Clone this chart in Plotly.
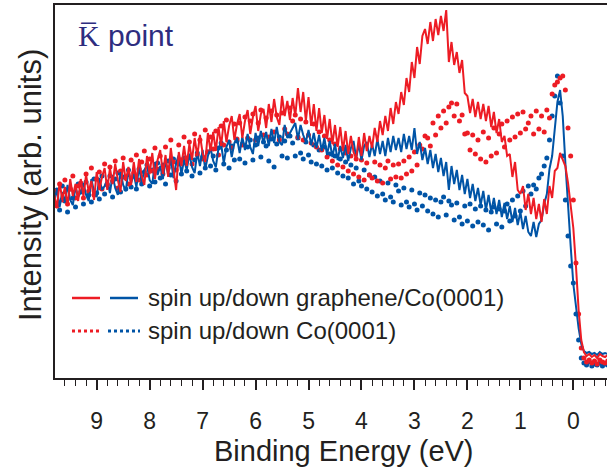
import numpy as np
import plotly.graph_objects as go

# Binding energy grid (eV), 0.05 eV steps from 9.80 down to -0.65
energy = np.round(9.80 - 0.05 * np.arange(210), 2)

# Intensities (arb. units)
red_line = [
    183, 170, 196, 178, 191, 172, 199, 182, 194, 177,
    199, 182, 203, 186, 197, 178, 206, 188, 201, 210,
    188, 210, 194, 214, 198, 186, 216, 197, 211, 193,
    216, 196, 219, 202, 193, 222, 204, 225, 199, 218,
    228, 204, 223, 201, 230, 210, 188, 226, 212, 232,
    212, 234, 218, 240, 222, 243, 225, 216, 245, 227,
    246, 227, 251, 232, 257, 236, 252, 262, 238, 254,
    264, 240, 257, 268, 244, 261, 272, 247, 264, 269,
    250, 274, 256, 279, 261, 253, 282, 262, 277, 258,
    280, 262, 290, 266, 286, 257, 281, 252, 274, 247,
    270, 245, 263, 239, 259, 234, 253, 231, 251, 227,
    247, 224, 242, 226, 219, 241, 222, 245, 227, 242,
    230, 250, 236, 257, 243, 262, 247, 270, 254, 276,
    264, 286, 273, 300, 286, 316, 300, 331, 314, 342,
    349, 334, 356, 337, 359, 343, 362, 347, 368, 316,
    336, 313, 326, 305, 318, 285, 282, 265, 279, 261,
    276, 259, 274, 257, 272, 251, 266, 245, 259, 236,
    242, 222, 224, 201, 216, 188, 184, 192, 168, 184,
    164, 180, 159, 174, 156, 179, 164, 192, 180, 207,
    210, 225, 218, 212, 195, 172, 150, 112, 68, 38,
    26, 22, 24, 21, 23, 20, 24, 22, 21, 23,
]

blue_line = [
    176, 189, 171, 186, 176, 193, 178, 173, 191, 181,
    186, 195, 183, 177, 199, 186, 181, 200, 188, 192,
    198, 185, 203, 190, 183, 206, 193, 187, 208, 195,
    204, 191, 211, 196, 208, 213, 198, 194, 216, 203,
    212, 199, 218, 203, 220, 200, 215, 223, 204, 218,
    208, 224, 211, 205, 226, 212, 228, 209, 222, 230,
    217, 211, 230, 234, 215, 231, 238, 221, 235, 240,
    225, 241, 228, 244, 231, 224, 245, 232, 247, 235,
    246, 232, 249, 235, 251, 236, 233, 253, 240, 245,
    250, 255, 239, 253, 243, 236, 248, 233, 245, 230,
    243, 227, 240, 223, 237, 221, 234, 218, 232, 220,
    233, 217, 230, 237, 220, 234, 218, 232, 236, 221,
    234, 222, 239, 224, 237, 222, 240, 226, 242, 228,
    240, 226, 244, 229, 242, 228, 250, 224, 236, 218,
    230, 214, 228, 210, 224, 206, 220, 202, 216, 188,
    212, 194, 208, 188, 203, 184, 199, 180, 194, 177,
    190, 173, 187, 168, 183, 166, 180, 164, 178, 161,
    175, 159, 172, 156, 170, 153, 166, 149, 162, 146,
    142, 156, 141, 154, 158, 174, 184, 209, 222, 250,
    276, 288, 262, 215, 168, 132, 94, 70, 50, 34,
    27, 25, 26, 24, 25, 23, 26, 24, 25, 24,
]

red_dots = [
    187, 172, 194, 178, 198, 174, 189, 202, 180, 192,
    195, 180, 204, 187, 210, 183, 199, 206, 189, 214,
    193, 211, 197, 217, 190, 207, 220, 200, 194, 218,
    205, 223, 198, 216, 227, 203, 219, 207, 230, 209,
    222, 204, 231, 210, 238, 216, 208, 233, 218, 241,
    220, 236, 214, 244, 223, 238, 219, 248, 226, 241,
    229, 247, 223, 252, 233, 258, 236, 230, 254, 239,
    255, 233, 261, 240, 257, 264, 238, 255, 268, 243,
    260, 241, 267, 246, 263, 238, 265, 249, 244, 270,
    257, 263, 241, 259, 238, 256, 243, 235, 254, 231,
    246, 228, 242, 221, 238, 217, 234, 213, 229, 211,
    225, 207, 222, 204, 219, 201, 218, 198, 215, 203,
    200, 216, 197, 213, 195, 210, 217, 199, 213, 201,
    214, 200, 217, 204, 221, 207, 226, 213, 233, 229,
    242, 240, 232, 255, 243, 262, 250, 267, 255, 271,
    275, 262, 274, 257, 263, 244, 245, 228, 243, 224,
    238, 219, 246, 216, 240, 222, 250, 225, 244, 254,
    231, 257, 238, 261, 241, 264, 245, 266, 249, 255,
    262, 244, 267, 249, 262, 246, 268, 260, 284, 293,
    296, 300, 302, 288, 250, 222, 178, 115, 64, 30,
    20, 16, 18, 15, 17, 14, 18, 16, 15, 17,
]

blue_dots = [
    174, 188, 168, 192, 177, 166, 189, 180, 171, 194,
    186, 174, 196, 183, 176, 199, 185, 179, 202, 184,
    194, 202, 181, 199, 205, 186, 201, 189, 208, 191,
    202, 189, 209, 194, 206, 213, 192, 208, 196, 215,
    200, 213, 194, 217, 203, 219, 197, 214, 204, 220,
    207, 222, 202, 218, 225, 205, 221, 210, 226, 212,
    222, 208, 230, 235, 214, 228, 210, 232, 218, 237,
    219, 234, 215, 231, 238, 218, 233, 240, 221, 236,
    232, 217, 239, 211, 234, 241, 222, 237, 220, 242,
    235, 222, 240, 225, 219, 236, 223, 216, 233, 214,
    228, 212, 231, 208, 224, 210, 222, 205, 219, 202,
    216, 200, 213, 194, 210, 197, 192, 208, 189, 203,
    186, 201, 182, 197, 184, 178, 195, 181, 176, 193,
    187, 173, 190, 176, 171, 188, 174, 168, 185, 172,
    183, 167, 180, 164, 178, 161, 176, 181, 163, 177,
    173, 158, 175, 161, 154, 172, 157, 174, 152, 169,
    156, 172, 153, 168, 148, 166, 171, 154, 169, 151,
    167, 174, 157, 178, 162, 182, 167, 187, 172, 192,
    184, 193, 189, 200, 204, 212, 220, 238, 262, 282,
    302, 275, 222, 178, 142, 112, 95, 64, 38, 20,
    15, 13, 16, 12, 14, 13, 15, 12, 14, 13,
]

x_ticks = [9, 8, 7, 6, 5, 4, 3, 2, 1, 0]
x_tick_labels = [str(t) for t in x_ticks]
legend_labels = ["spin up/down graphene/Co(0001)", "spin up/down Co(0001)"]
x_title = "Binding Energy (eV)"
y_title = "Intensity (arb. units)"

RED = "#ed1c24"
BLUE = "#0054a6"
AX = "#231f20"
TXT = "#231f20"
NAVY = "#2e2d7f"
FONT = "Liberation Sans, Arial, sans-serif"

fig = go.Figure()
fig.add_trace(go.Scatter(x=energy, y=blue_dots, mode="markers",
                         marker=dict(color=BLUE, size=5, line=dict(width=0))))
fig.add_trace(go.Scatter(x=energy, y=red_dots, mode="markers",
                         marker=dict(color=RED, size=5, line=dict(width=0))))
fig.add_trace(go.Scatter(x=energy, y=blue_line, mode="lines",
                         line=dict(color=BLUE, width=2)))
fig.add_trace(go.Scatter(x=energy, y=red_line, mode="lines",
                         line=dict(color=RED, width=2)))

fig.update_layout(
    width=607, height=469,
    margin=dict(l=55, r=0, t=5, b=91),
    plot_bgcolor="white", paper_bgcolor="white",
    showlegend=False,
    font=dict(family=FONT, color=TXT),
)
fig.update_xaxes(
    range=[9.787, -0.636],
    tickmode="array", tickvals=x_ticks, ticktext=x_tick_labels,
    ticks="outside", ticklen=10, tickwidth=1.5, tickcolor=AX,
    ticklabelstandoff=11,
    tickfont=dict(size=23, family=FONT, color=TXT),
    showline=True, linewidth=2, linecolor=AX, mirror=True,
    showgrid=False, zeroline=False,
    minor=dict(dtick=0.2, tick0=0, ticks="outside", ticklen=6,
               tickwidth=1.2, tickcolor=AX, showgrid=False),
)
fig.update_yaxes(
    range=[0, 373], showline=True, linewidth=2, linecolor=AX,
    showticklabels=False, ticks="", showgrid=False, zeroline=False,
)


def px_x(p):
    return (p - 55) / 552.0


def px_y(p):
    return (378 - p) / 373.0


# legend keys
shapes = [
    dict(type="line", xref="paper", yref="paper", x0=px_x(72), x1=px_x(100),
         y0=px_y(298), y1=px_y(298), line=dict(color=RED, width=2.5)),
    dict(type="line", xref="paper", yref="paper", x0=px_x(110), x1=px_x(138),
         y0=px_y(298), y1=px_y(298), line=dict(color=BLUE, width=2.5)),
    dict(type="line", xref="paper", yref="paper", x0=px_x(72), x1=px_x(102),
         y0=px_y(331), y1=px_y(331), line=dict(color=RED, width=3, dash="dot")),
    dict(type="line", xref="paper", yref="paper", x0=px_x(108), x1=px_x(140),
         y0=px_y(331), y1=px_y(331), line=dict(color=BLUE, width=3, dash="dot")),
]
fig.update_layout(shapes=shapes)

annotations = [
    dict(text=legend_labels[0], xref="paper", yref="paper", x=px_x(146), y=px_y(297),
         xanchor="left", yanchor="middle", showarrow=False,
         font=dict(size=24, family=FONT, color=TXT)),
    dict(text=legend_labels[1], xref="paper", yref="paper", x=px_x(146), y=px_y(330),
         xanchor="left", yanchor="middle", showarrow=False,
         font=dict(size=24, family=FONT, color=TXT)),
    dict(text=x_title, xref="paper", yref="paper", x=px_x(343.5), y=px_y(451),
         xanchor="center", yanchor="middle", showarrow=False,
         font=dict(size=29, family=FONT, color=TXT)),
    dict(text=y_title, xref="paper", yref="paper", x=px_x(30), y=px_y(185),
         xanchor="center", yanchor="middle", showarrow=False, textangle=-90,
         font=dict(size=31, family=FONT, color=TXT)),
    dict(text='<span style="font-family:Liberation Serif">K\u0305</span> point',
         xref="paper", yref="paper", x=px_x(76), y=px_y(35),
         xanchor="left", yanchor="middle", showarrow=False,
         font=dict(size=30, family=FONT, color=NAVY)),
]
fig.update_layout(annotations=annotations)

fig.write_html("out.html")
